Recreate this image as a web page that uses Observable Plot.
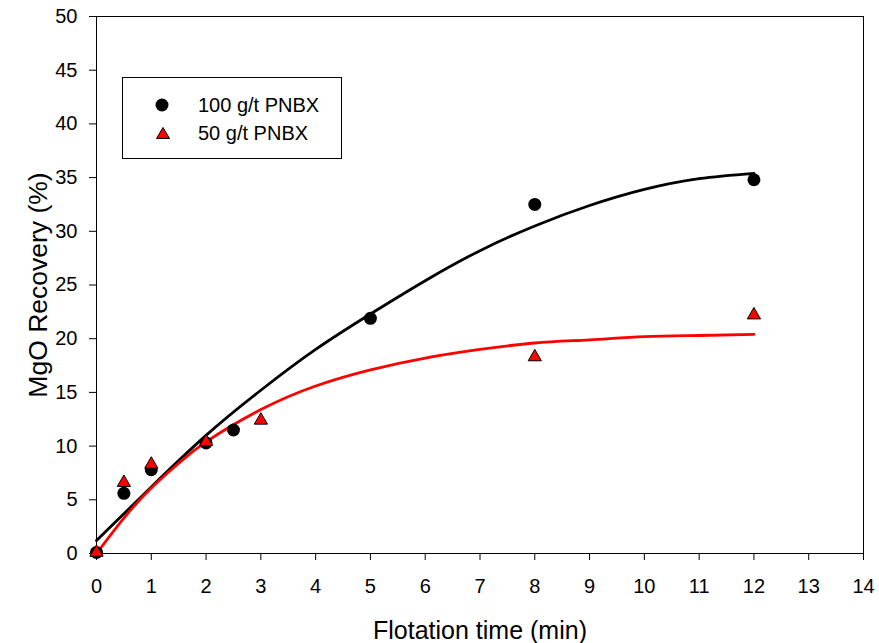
<!DOCTYPE html>
<html>
<head>
<meta charset="utf-8">
<script src="https://cdn.jsdelivr.net/npm/d3@7"></script>
<script src="https://cdn.jsdelivr.net/npm/@observablehq/plot@0.6"></script>
<style>
  html, body { margin: 0; padding: 0; background: #fff; }
  #wrap { position: relative; width: 879px; height: 643px; font-family: "Liberation Sans", Arial, sans-serif; }
  #wrap svg { font-family: "Liberation Sans", Arial, sans-serif; }
  g[aria-label="x-axis tick label"] text, g[aria-label="y-axis tick label"] text { font-size: 20px !important; }
  g[aria-label="x-axis tick label"], g[aria-label="y-axis tick label"] { font-size: 20px !important; }
  g[aria-label="x-axis label"] text { font-size: 25px; }
  g[aria-label="y-axis label"] text { font-size: 26.5px; }
  #legend { position: absolute; left: 122px; top: 77px; width: 220px; height: 82px; border: 1px solid #000; box-sizing: border-box; background: #fff; font-size: 20px; }
  #legend .row { position: absolute; left: 32px; display: flex; align-items: center; height: 20px; }
  #legend .row span { position: absolute; left: 43px; white-space: nowrap; }
</style>
</head>
<body>
<div id="wrap"></div>
<script>
// Measured data
const series = ["100 g/t PNBX", "50 g/t PNBX"];
const time100 = [0, 0.5, 1, 2, 2.5, 5, 8, 12];
const rec100  = [0.1, 5.6, 7.8, 10.3, 11.5, 21.9, 32.5, 34.8];
const time50  = [0, 0.5, 1, 2, 3, 8, 12];
const rec50   = [0.1, 6.6, 8.3, 10.4, 12.4, 18.3, 22.2];

// Fitted curves
const fit100X = [0, 1, 2, 3, 4, 5, 6, 7, 8, 9, 10, 11, 12];
const fit100Y = [1.2, 6.2, 11.0, 15.2, 19.0, 22.3, 25.4, 28.2, 30.5, 32.4, 33.9, 34.9, 35.4];
const fit50X  = [0, 0.5, 1, 1.5, 2, 3, 4, 5, 6, 7, 8, 9, 10, 11, 12];
const fit50Y  = [0, 3.3, 6.1, 8.4, 10.4, 13.4, 15.6, 17.1, 18.2, 19.0, 19.6, 19.9, 20.2, 20.3, 20.4];

const xTicks = d3.range(0, 15, 1);
const yTicks = d3.range(0, 55, 5);

const pts100 = time100.map((t, i) => ({t, r: rec100[i]}));
const pts50  = time50.map((t, i) => ({t, r: rec50[i]}));
const line100 = fit100X.map((t, i) => ({t, r: fit100Y[i]}));
const line50  = fit50X.map((t, i) => ({t, r: fit50Y[i]}));

const chart = Plot.plot({
  width: 879,
  height: 643,
  marginLeft: 96,
  marginRight: 16,
  marginTop: 16,
  marginBottom: 90,
  style: { fontFamily: "Liberation Sans, Arial, sans-serif", fontSize: "20px", color: "#000", background: "#fff", overflow: "visible" },
  x: { domain: [0, 14] },
  y: { domain: [0, 50] },
  marks: [
    Plot.frame({ stroke: "#000", strokeWidth: 1 }),
    Plot.axisX({ ticks: xTicks, tickFormat: d => String(d), tickSize: 7, tickPadding: 18,
      label: null }),
    Plot.axisX({ ticks: [], label: "Flotation time (min)", labelAnchor: "center", labelArrow: "none", labelOffset: 85 }),
    Plot.axisY({ ticks: yTicks, tickFormat: d => String(d), tickSize: 7, tickPadding: 12,
      label: null }),
    Plot.axisY({ ticks: [], label: "MgO Recovery (%)", labelAnchor: "center", labelArrow: "none", labelOffset: 68 }),
    Plot.line(line100, { x: "t", y: "r", stroke: "#000", strokeWidth: 2.8, curve: "natural" }),
    Plot.line(line50, { x: "t", y: "r", stroke: "#ff0000", strokeWidth: 2.8, curve: "natural" }),
    Plot.dot(pts100, { x: "t", y: "r", r: 6.5, fill: "#000", stroke: "none" }),
    Plot.dot(pts50, { x: "t", y: "r", r: 4.9, symbol: "triangle", fill: "#ff0000", stroke: "#000", strokeWidth: 1 })
  ]
});

const wrap = document.getElementById("wrap");
wrap.appendChild(chart);

const legend = document.createElement("div");
legend.id = "legend";
legend.innerHTML = `
  <div class="row" style="top:17px"><svg width="14" height="14"><circle cx="7" cy="7" r="6.5" fill="#000"/></svg><span>${series[0]}</span></div>
  <div class="row" style="top:45px"><svg width="16" height="14"><path d="M8,1.5 L14.5,12.5 L1.5,12.5 Z" fill="#ff0000" stroke="#000" stroke-width="1"/></svg><span>${series[1]}</span></div>`;
wrap.appendChild(legend);
</script>
</body>
</html>
